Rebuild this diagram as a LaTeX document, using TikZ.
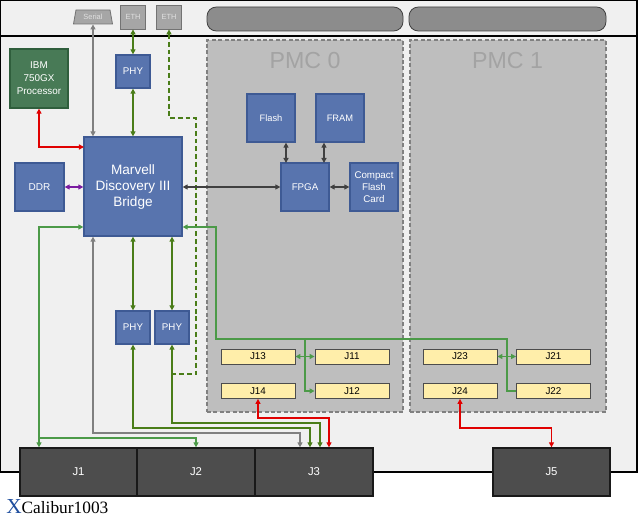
\documentclass[tikz,border=0pt]{standalone}
\usepackage{fontspec}
\setmainfont{Liberation Sans}
\newfontfamily\seriffont{Liberation Serif}
\usetikzlibrary{shapes.geometric,arrows.meta,calc}
\definecolor{boardbg}{HTML}{F0F0F0}
\definecolor{bluefill}{HTML}{5874AE}
\definecolor{blueline}{HTML}{3E5A94}
\definecolor{greenfill}{HTML}{487A56}
\definecolor{greenline}{HTML}{2F5E3C}
\definecolor{yelfill}{HTML}{FFEEAA}
\definecolor{darkfill}{HTML}{4D4D4D}
\definecolor{pmcfill}{HTML}{BEBEBE}
\definecolor{pmcline}{HTML}{808080}
\definecolor{pmctext}{HTML}{A3A3A3}
\definecolor{barfill}{HTML}{8C8C8C}
\definecolor{portfill}{HTML}{A6A6A6}
\definecolor{dgreen}{HTML}{4A7D19}
\definecolor{lgreen}{HTML}{4C9A48}
\definecolor{redl}{HTML}{E00000}
\definecolor{purp}{HTML}{7A1CA0}
\definecolor{darkl}{HTML}{404040}
\definecolor{grayl}{HTML}{808080}
\definecolor{xblue}{HTML}{1F4E9E}
\tikzset{
  sz/.style 2 args={minimum width=#1*0.75pt, minimum height=#2*0.75pt},
  bluebox/.style={draw=blueline, fill=bluefill, line width=1pt, text=white, inner sep=1pt, align=center},
  greenbox/.style={draw=greenline, fill=greenfill, line width=1pt, text=white, inner sep=1pt, align=center},
  jbox/.style={draw=black!70, fill=yelfill, line width=0.6pt, inner sep=0.5pt, font=\fontsize{7.4}{9}\selectfont},
  bigj/.style={draw=black!90, fill=darkfill, line width=1pt, text=white, inner sep=0.5pt, font=\fontsize{8.5}{10}\selectfont},
  port/.style={draw=black!55, fill=portfill, line width=0.6pt, text=black!12, inner sep=0.5pt, font=\fontsize{5.6}{6}\selectfont},
  pmc/.style={draw=pmcline, fill=pmcfill, dashed, dash pattern=on 3pt off 1.8pt, line width=1.5pt},
  bar/.style={draw=black!75, fill=barfill, line width=0.6pt, rounded corners=7pt},
  conn/.style={line width=1.35pt, >={Triangle[length=3.8pt,width=3.8pt]}},
  dg/.style={conn, draw=dgreen},
  lg/.style={conn, draw=lgreen},
  rd/.style={conn, draw=redl},
  pu/.style={conn, draw=purp},
  dk/.style={conn, draw=darkl},
  gy/.style={conn, draw=grayl},
}
\begin{document}
\begin{tikzpicture}[x=0.75pt,y=-0.75pt]
\useasboundingbox (0,0) rectangle (640,517);
% board
\draw[fill=boardbg, line width=0.8pt] (0.5,0.5) rectangle (637,472);
\draw[line width=0.8pt] (0.5,36) -- (637,36);
% PMC areas
\node[pmc, sz={196}{372}, inner sep=0] (pmc0) at (305,226) {};
\node[pmc, sz={196}{372}, inner sep=0] (pmc1) at (507.5,226) {};
\node[text=pmctext, font=\fontsize{17.4}{20}\selectfont] (pmc0t) at (305,61) {PMC 0};
\node[text=pmctext, font=\fontsize{17.4}{20}\selectfont] (pmc1t) at (507.5,61) {PMC 1};
% bars
\node[bar, sz={196}{24}] (bar0) at (305,19) {};
\node[bar, sz={197}{24}] (bar1) at (507.5,19) {};
% ports
\node[trapezium, trapezium left angle=70, trapezium right angle=70, trapezium stretches body, port, sz={39}{14}] (serial) at (93,17) {Serial};
\node[port, sz={25}{24}] (eth1) at (133,17) {ETH};
\node[port, sz={25}{24}] (eth2) at (169,17) {ETH};
% boxes
\node[greenbox, sz={58}{59}, font=\fontsize{7.4}{9.75}\selectfont] (ibm) at (39,78.5) {IBM\\750GX\\Processor};
\node[bluebox, sz={34}{33}, font=\fontsize{7.3}{9}\selectfont] (phyT) at (133,71.5) {PHY};
\node[bluebox, sz={98}{99}, font=\fontsize{10.2}{12}\selectfont] (mv) at (133,186.5) {Marvell\\Discovery III\\Bridge};
\node[bluebox, sz={49}{48}, font=\fontsize{7.5}{9}\selectfont] (ddr) at (39.5,187) {DDR};
\node[bluebox, sz={48}{48}, font=\fontsize{7}{9}\selectfont] (flash) at (271,118) {Flash};
\node[bluebox, sz={48}{48}, font=\fontsize{7}{9}\selectfont] (fram) at (340,118) {FRAM};
\node[bluebox, sz={48}{48}, font=\fontsize{7.3}{9}\selectfont] (fpga) at (305,187) {FPGA};
\node[bluebox, sz={48}{48}, font=\fontsize{7.3}{9}\selectfont] (cf) at (374,187) {Compact\\Flash\\Card};
\node[bluebox, sz={34}{33}, font=\fontsize{7.3}{9}\selectfont] (phyL) at (133,327.5) {PHY};
\node[bluebox, sz={34}{33}, font=\fontsize{7.3}{9}\selectfont] (phyR) at (172,327.5) {PHY};
% J connectors
\node[jbox, sz={74}{15}] (j13) at (258,356.5) {J13};
\node[jbox, sz={74}{15}] (j11) at (352,356.5) {J11};
\node[jbox, sz={74}{15}] (j14) at (258,391) {J14};
\node[jbox, sz={74}{15}] (j12) at (352,391) {J12};
\node[jbox, sz={74}{15}] (j23) at (460,356.5) {J23};
\node[jbox, sz={74}{15}] (j21) at (553.5,356.5) {J21};
\node[jbox, sz={74}{15}] (j24) at (460,391) {J24};
\node[jbox, sz={74}{15}] (j22) at (553.5,391) {J22};
\node[bigj, sz={117}{48}] (j1) at (78.5,472) {J1};
\node[bigj, sz={118}{48}] (j2) at (196,472) {J2};
\node[bigj, sz={118}{48}] (j3) at (314,472) {J3};
\node[bigj, sz={117}{48}] (j5) at (551.5,472) {J5};
% title
\node[anchor=base west, inner sep=0] (title) at (6,513) {\seriffont\fontsize{16}{18}\selectfont\textcolor{xblue}{X}\fontsize{13}{15}\selectfont Calibur1003};
% coordinates
\coordinate (dshA) at (196,118);
\coordinate (dshB) at (172,374);
\coordinate (lgL) at (39,227);
\coordinate (lgLb) at (39,438);
\coordinate (lgR) at (216,227);
\coordinate (lgH) at (507,339);
\coordinate (lgM) at (305,339);
\coordinate (gyH) at (300,433);
\coordinate (dgH1) at (310,428);
\coordinate (dgH2) at (320,423);
\coordinate (rdH) at (329,418);
\coordinate (rdH2) at (551.5,428);
\coordinate (fl1) at (286,163);
\coordinate (fl2) at (324,163);
\coordinate (ibmin) at (84,147);
% connectors
\draw[gy,<->] (serial.south) -- (serial.south |- mv.north);
\draw[dg,<->] (eth1.south) -- (phyT.north);
\draw[dg,<->] (phyT.south) -- (mv.north);
\draw[dg, dash pattern=on 3.6pt off 2.2pt, line width=1.6pt, <-] (eth2.south) |- (dshA) |- (dshB);
\draw[rd,<->] (ibm.south) |- (ibmin);
\draw[pu,<->] (ddr.east) -- (ddr.east -| mv.west);
\draw[dk,<->] (mv.east |- fpga.west) -- (fpga.west);
\draw[dk,<->] (fl1) -- (fl1 |- flash.south);
\draw[dk,<->] (fl2) -- (fl2 |- fram.south);
\draw[dk,<->] (fpga.east) -- (cf.west);
\draw[lg,<->] (mv.west |- lgL) -- (lgL) -- (lgL |- j1.north);
\draw[lg,->] (lgLb) -| (j2.north);
\draw[lg,<-] (mv.east |- lgR) -- (lgR) |- (lgH) |- (j22.west);
\draw[lg,->] (lgM) |- (j12.west);
\draw[lg,<->] (j13.east) -- (j11.west);
\draw[lg,<->] (j23.east) -- (j21.west);
\draw[dg,<->] (mv.south -| phyL.north) -- (phyL.north);
\draw[dg,<->] (mv.south -| phyR.north) -- (phyR.north);
\draw[gy,<->] (mv.south -| serial.south) |- (gyH) -- (gyH |- j3.north);
\draw[dg,<->] (phyL.south) |- (dgH1) -- (dgH1 |- j3.north);
\draw[dg,<->] (phyR.south) |- (dgH2) -- (dgH2 |- j3.north);
\draw[rd,<->] (j14.south) |- (rdH) -- (rdH |- j3.north);
\draw[rd,<->] (j24.south) |- (rdH2) -- (j5.north);
\end{tikzpicture}
\end{document}
